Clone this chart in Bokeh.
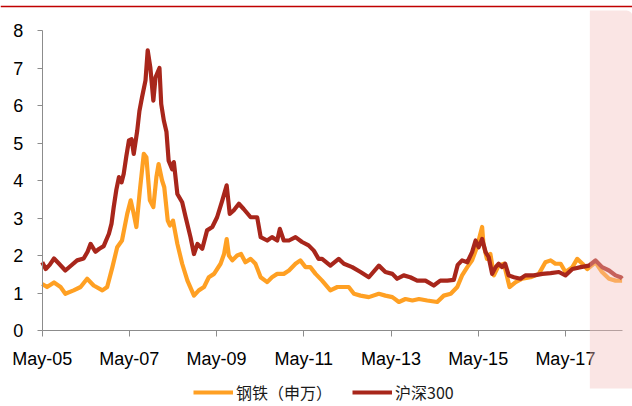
from datetime import datetime

from bokeh.embed import file_html
from bokeh.models import (BoxAnnotation, DatetimeAxis, DatetimeTickFormatter,
                          FixedTicker, Legend, LegendItem, LinearAxis, Range1d, Span)
from bokeh.plotting import figure
from bokeh.resources import INLINE

# Price-to-book history, dates as decimal years
steel_t = [2005.33, 2005.44, 2005.60, 2005.75, 2005.86, 2006.05, 2006.21, 2006.36, 2006.51, 2006.71,
           2006.82, 2006.94, 2007.05, 2007.16, 2007.28, 2007.36, 2007.43, 2007.49, 2007.57, 2007.66,
           2007.72, 2007.80, 2007.88, 2007.95, 2008.00, 2008.08, 2008.13, 2008.21, 2008.26, 2008.33,
           2008.43, 2008.54, 2008.66, 2008.81, 2008.92, 2009.04, 2009.15, 2009.27, 2009.42, 2009.50,
           2009.56, 2009.61, 2009.69, 2009.80, 2009.89, 2009.99, 2010.11, 2010.22, 2010.34, 2010.49,
           2010.60, 2010.72, 2010.87, 2010.99, 2011.14, 2011.25, 2011.37, 2011.48, 2011.60, 2011.75,
           2011.94, 2012.10, 2012.25, 2012.36, 2012.48, 2012.63, 2012.82, 2013.05, 2013.20, 2013.36,
           2013.51, 2013.66, 2013.82, 2013.97, 2014.16, 2014.39, 2014.54, 2014.70, 2014.85, 2014.96,
           2015.08, 2015.19, 2015.30, 2015.42, 2015.45, 2015.53, 2015.61, 2015.69, 2015.80, 2015.92,
           2016.05, 2016.19, 2016.34, 2016.53, 2016.72, 2016.87, 2016.99, 2017.10, 2017.22, 2017.33,
           2017.49, 2017.60, 2017.72, 2017.83, 2018.02, 2018.17, 2018.33, 2018.48, 2018.63]
steel_pb = [1.24, 1.16, 1.28, 1.16, 0.98, 1.07, 1.16, 1.38, 1.20, 1.07,
            1.16, 1.69, 2.22, 2.40, 3.11, 3.47, 3.11, 2.76, 3.73, 4.71,
            4.62, 3.47, 3.29, 4.09, 4.44, 4.00, 3.82, 2.93, 2.80, 2.93,
            2.31, 1.78, 1.33, 0.93, 1.07, 1.16, 1.42, 1.51, 1.78, 2.04,
            2.44, 2.00, 1.87, 2.00, 2.04, 1.82, 1.91, 1.78, 1.42, 1.29,
            1.42, 1.51, 1.51, 1.60, 1.78, 1.87, 1.69, 1.69, 1.51, 1.33,
            1.07, 1.16, 1.16, 1.16, 0.98, 0.93, 0.89, 0.98, 0.93, 0.89,
            0.76, 0.84, 0.80, 0.84, 0.80, 0.76, 0.93, 0.98, 1.16, 1.47,
            1.69, 1.87, 2.22, 2.76, 2.31, 1.91, 2.04, 1.47, 1.73, 1.78,
            1.16, 1.29, 1.38, 1.42, 1.51, 1.82, 1.87, 1.78, 1.78, 1.56,
            1.69, 1.91, 1.78, 1.64, 1.82, 1.56, 1.38, 1.33, 1.33]

hs300_t = [2005.33, 2005.41, 2005.50, 2005.60, 2005.70, 2005.86, 2005.98, 2006.13, 2006.28, 2006.37,
           2006.44, 2006.55, 2006.64, 2006.74, 2006.86, 2006.92, 2006.97, 2007.03, 2007.09, 2007.15,
           2007.20, 2007.26, 2007.32, 2007.38, 2007.43, 2007.51, 2007.56, 2007.62, 2007.70, 2007.75,
           2007.81, 2007.88, 2007.93, 2008.02, 2008.06, 2008.12, 2008.18, 2008.23, 2008.31, 2008.35,
           2008.43, 2008.54, 2008.62, 2008.73, 2008.81, 2008.89, 2009.00, 2009.11, 2009.23, 2009.34,
           2009.46, 2009.56, 2009.63, 2009.72, 2009.84, 2009.95, 2010.11, 2010.26, 2010.34, 2010.49,
           2010.60, 2010.72, 2010.78, 2010.87, 2010.99, 2011.14, 2011.29, 2011.44, 2011.56, 2011.67,
           2011.75, 2011.94, 2012.13, 2012.25, 2012.44, 2012.63, 2012.82, 2013.05, 2013.20, 2013.36,
           2013.47, 2013.62, 2013.77, 2013.93, 2014.12, 2014.31, 2014.46, 2014.62, 2014.77, 2014.86,
           2014.96, 2015.08, 2015.19, 2015.27, 2015.34, 2015.42, 2015.50, 2015.57, 2015.65, 2015.73,
           2015.80, 2015.88, 2015.95, 2016.03, 2016.15, 2016.30, 2016.41, 2016.61, 2016.80, 2016.99,
           2017.18, 2017.33, 2017.49, 2017.68, 2017.87, 2018.02, 2018.17, 2018.33, 2018.48, 2018.60,
           2018.63]
hs300_pb = [1.82, 1.64, 1.75, 1.92, 1.80, 1.60, 1.72, 1.87, 1.92, 2.10,
            2.31, 2.10, 2.18, 2.25, 2.58, 2.85, 3.29, 3.75, 4.09, 3.95,
            4.18, 4.65, 5.07, 5.10, 4.71, 5.33, 5.85, 6.22, 6.67, 7.47,
            7.02, 6.13, 6.75, 7.00, 6.04, 5.60, 5.30, 4.53, 4.30, 4.49,
            3.64, 3.42, 3.02, 2.49, 2.04, 2.31, 2.18, 2.67, 2.76, 3.02,
            3.47, 3.87, 3.11, 3.20, 3.38, 3.24, 3.02, 3.02, 2.49, 2.40,
            2.49, 2.40, 2.71, 2.40, 2.40, 2.49, 2.36, 2.27, 2.13, 1.91,
            1.91, 1.73, 1.91, 1.78, 1.69, 1.56, 1.42, 1.73, 1.56, 1.51,
            1.38, 1.47, 1.42, 1.33, 1.33, 1.20, 1.33, 1.33, 1.35, 1.75,
            1.87, 1.82, 2.09, 2.40, 2.22, 2.44, 2.09, 1.96, 1.51, 1.69,
            1.78, 1.69, 1.78, 1.47, 1.42, 1.38, 1.47, 1.47, 1.51, 1.53,
            1.56, 1.47, 1.64, 1.69, 1.73, 1.87, 1.69, 1.60, 1.47, 1.42,
            1.38]

series_names = ["钢铁（申万）", "沪深300"]
tick_years = [2005, 2007, 2009, 2011, 2013, 2015, 2017]
y_ticks = [0, 1, 2, 3, 4, 5, 6, 7, 8]
shade_start = 2017.89
axis_end = 2018.63

assert len(steel_t) == len(steel_pb) and len(hs300_t) == len(hs300_pb)

EPOCH = datetime(1970, 1, 1)


def to_dt(t):
    y = int(t)
    a, b = datetime(y, 1, 1), datetime(y + 1, 1, 1)
    return a + (b - a) * (t - y)


def ms(d):
    return (d - EPOCH).total_seconds() * 1000.0


W, H = 632, 406
AX_X, AX_Y = 41.7, 330.0        # pixel position of the axes origin
PX_YEAR, PX_UNIT = 43.6, 37.5   # pixels per year / per PB unit
DAY_MS = 86400000.0
YEAR_MS = 365.25 * DAY_MS

origin = ms(datetime(2005, 5, 1))
x_start = origin - AX_X / PX_YEAR * YEAR_MS
x_end = origin + (W - AX_X) / PX_YEAR * YEAR_MS
y_start = -(H - AX_Y) / PX_UNIT
y_end = AX_Y / PX_UNIT

p = figure(width=W, height=H, output_backend="svg", toolbar_location=None,
           x_axis_type=None, y_axis_type=None,
           x_range=Range1d(x_start, x_end), y_range=Range1d(y_start, y_end),
           min_border=0, outline_line_color=None)
p.background_fill_color = "white"
p.border_fill_color = "white"

r_steel = p.line([ms(to_dt(t)) for t in steel_t], steel_pb, line_color="#FFA023",
                 line_width=4.2, line_join="round")
r_hs = p.line([ms(to_dt(t)) for t in hs300_t], hs300_pb, line_color="#A8261B",
              line_width=4.2, line_join="round")

AXIS_COLOR = "#8C8C8C"
LABEL_FONT = "Liberation Sans"

xaxis = DatetimeAxis(fixed_location=0,
                     bounds=(origin, ms(to_dt(axis_end))),
                     ticker=FixedTicker(ticks=[ms(datetime(y, 5, 1)) for y in tick_years]),
                     formatter=DatetimeTickFormatter(years="%b-%y", months="%b-%y", days="%b-%y"),
                     axis_line_color=AXIS_COLOR, major_tick_line_color=AXIS_COLOR,
                     major_tick_in=0, major_tick_out=6, minor_tick_line_color=None,
                     major_label_standoff=12, major_label_text_font=LABEL_FONT,
                     major_label_text_font_size="18px", major_label_text_color="black")
p.add_layout(xaxis, "below")

yaxis = LinearAxis(fixed_location=origin, bounds=(0, 8),
                   ticker=FixedTicker(ticks=y_ticks),
                   axis_line_color=AXIS_COLOR, major_tick_line_color=AXIS_COLOR,
                   major_tick_in=0, major_tick_out=5, minor_tick_line_color=None,
                   major_label_standoff=14, major_label_text_font=LABEL_FONT,
                   major_label_text_font_size="18px", major_label_text_color="black")
p.add_layout(yaxis, "left")

# shaded recent period, drawn over the lines
p.add_layout(BoxAnnotation(left=ms(to_dt(shade_start)), right=x_end,
                           top=(AX_Y - 10) / PX_UNIT, bottom=(AX_Y - 388) / PX_UNIT,
                           fill_color="#F3BFBC", fill_alpha=0.4, line_color=None,
                           border_radius=(0, 6, 0, 0)))

# rule across the top
p.add_layout(Span(location=(AX_Y - 6) / PX_UNIT, dimension="width",
                  line_color="#C00000", line_width=1.5))

legend = Legend(items=[LegendItem(label=series_names[0], renderers=[r_steel]),
                       LegendItem(label=series_names[1], renderers=[r_hs])],
                orientation="horizontal", location=(193, 2), padding=0, margin=0,
                spacing=20, glyph_width=40, glyph_height=20, label_standoff=3,
                label_text_font="Noto Sans CJK SC", label_text_font_size="16px",
                label_text_color="#1a1a1a", border_line_color=None,
                background_fill_alpha=0)
p.add_layout(legend, "center")

open("out.html", "w").write(file_html(p, INLINE))
